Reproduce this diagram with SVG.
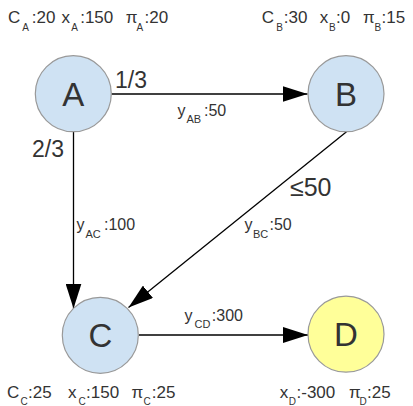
<svg xmlns="http://www.w3.org/2000/svg" width="413" height="406" viewBox="0 0 413 406">
<style>
.node{fill:#cfe2f3;stroke:#999999;stroke-width:1.2}
.nodeY{fill:#ffff99;stroke:#999999;stroke-width:1.2}
.nl{font-family:"Liberation Sans",Arial,sans-serif;font-size:33px;fill:#333333;text-anchor:middle}
.t{font-family:"Liberation Sans",Arial,sans-serif;font-size:17px;fill:#333333}
.s{font-size:10px}
.e{font-family:"Liberation Sans",Arial,sans-serif;font-size:16px;fill:#333333}
.es{font-size:11px}
.big{font-family:"Liberation Sans",Arial,sans-serif;font-size:23px;fill:#333333}
.edge{stroke:#000000;stroke-width:1.3;fill:none;marker-end:url(#arr)}
</style>
<defs>
<marker id="arr" markerUnits="userSpaceOnUse" markerWidth="26" markerHeight="16" refX="25" refY="8" orient="auto">
<path d="M0,0 L25,8 L0,16 Z" fill="#000000"/>
</marker>
</defs>
<rect width="413" height="406" fill="#ffffff"/>
<g id="connectors">
<path class="edge" d="M111.5,94 L307.5,94"/>
<path class="edge" d="M73.5,131.7 L73.5,308.5"/>
<path class="edge" d="M346.5,131.7 L128.5,307.5"/>
<path class="edge" d="M139,335 L308,335"/>
</g>
<g id="edge-labels">
<text class="big" x="115" y="88.3">1/3</text>
<text class="big" x="32" y="156.5">2/3</text>
<text class="big" x="290" y="196" style="font-size:25px">≤50</text>
<text class="e"><tspan x="177.5" y="116">y</tspan><tspan class="es" x="186.5" y="122.5">AB</tspan><tspan x="204" y="116">:50</tspan></text>
<text class="e"><tspan x="76.5" y="230">y</tspan><tspan class="es" x="85.5" y="237.5">AC</tspan><tspan x="104" y="230">:100</tspan></text>
<text class="e"><tspan x="244.5" y="230">y</tspan><tspan class="es" x="253" y="237.5">BC</tspan><tspan x="269.5" y="230">:50</tspan></text>
<text class="e"><tspan x="184.5" y="321">y</tspan><tspan class="es" x="194.5" y="328">CD</tspan><tspan x="211.8" y="321">:300</tspan></text>
</g>
<g id="node-A">
<circle class="node" cx="73.3" cy="93.7" r="38"/>
<text class="nl" x="73.3" y="105.7">A</text>
<text class="t"><tspan x="8" y="23.3">C</tspan><tspan class="s" x="22.3" y="30.5">A</tspan><tspan x="31.8" y="23.3">:20</tspan><tspan x="61.5" y="23.3">x</tspan><tspan class="s" x="71.3" y="30.5">A</tspan><tspan x="80.2" y="23.3">:150</tspan><tspan x="125.8" y="23.3">π</tspan><tspan class="s" x="136.5" y="30.5">A</tspan><tspan x="144.5" y="23.3">:20</tspan></text>
</g>
<g id="node-B">
<circle class="node" cx="346" cy="93.7" r="38"/>
<text class="nl" x="346" y="105.7">B</text>
<text class="t"><tspan x="261.7" y="23.3">C</tspan><tspan class="s" x="276.2" y="30.5">B</tspan><tspan x="283.8" y="23.3">:30</tspan><tspan x="319.8" y="23.3">x</tspan><tspan class="s" x="329" y="30.5">B</tspan><tspan x="336" y="23.3">:0</tspan><tspan x="363" y="23.3">π</tspan><tspan class="s" x="374.6" y="30.5">B</tspan><tspan x="381.5" y="23.3">:15</tspan></text>
</g>
<g id="node-C">
<circle class="node" cx="100.3" cy="335.3" r="38"/>
<text class="nl" x="100.3" y="347.3">C</text>
<text class="t"><tspan x="7" y="397.7">C</tspan><tspan class="s" x="20.5" y="404.5">C</tspan><tspan x="28" y="397.7">:25</tspan><tspan x="68" y="397.7">x</tspan><tspan class="s" x="78.5" y="404.5">C</tspan><tspan x="86" y="397.7">:150</tspan><tspan x="131.4" y="397.7">π</tspan><tspan class="s" x="143.5" y="404.5">C</tspan><tspan x="151.8" y="397.7">:25</tspan></text>
</g>
<g id="node-D">
<circle class="nodeY" cx="346" cy="334.2" r="38"/>
<text class="nl" x="346" y="346.2">D</text>
<text class="t"><tspan x="279.8" y="398.3">x</tspan><tspan class="s" x="288.8" y="405">D</tspan><tspan x="296.5" y="398.3">:-300</tspan><tspan x="349" y="398.3">π</tspan><tspan class="s" x="359.5" y="405">D</tspan><tspan x="367" y="398.3">:25</tspan></text>
</g>
</svg>
